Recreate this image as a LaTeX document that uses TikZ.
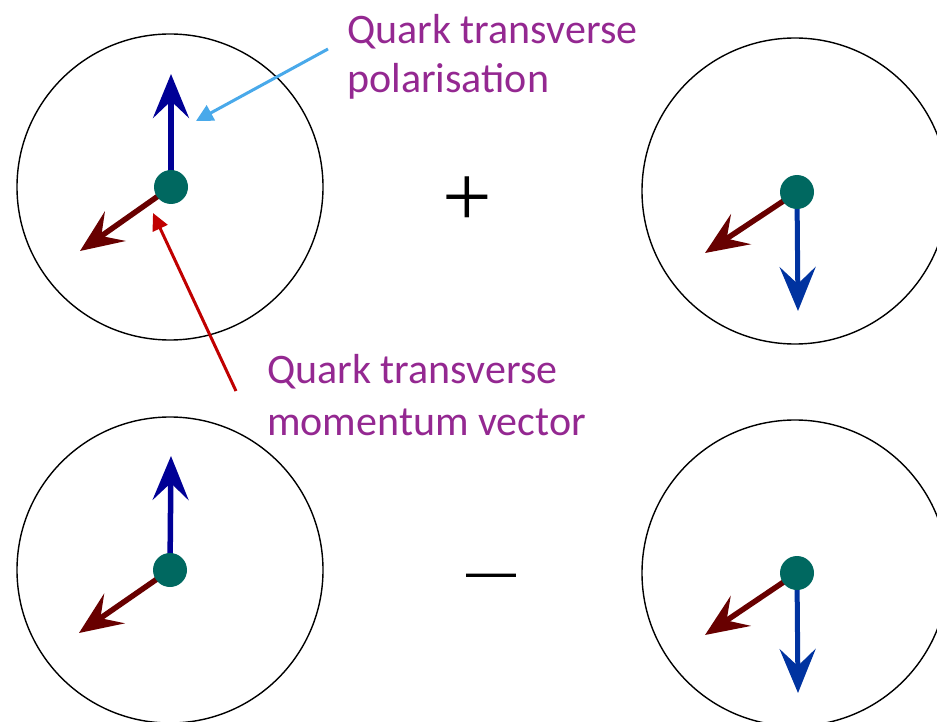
\documentclass[tikz,border=0pt]{standalone}
\usepackage{fontspec}
\setmainfont{Carlito}
\newfontfamily\signserif{Liberation Serif}
\newfontfamily\signsans{Liberation Sans}
\usetikzlibrary{arrows.meta}
\definecolor{dotcol}{RGB}{0,104,96}
\definecolor{blueA}{RGB}{0,0,150}
\definecolor{blueB}{RGB}{0,51,160}
\definecolor{maroon}{RGB}{104,0,0}
\definecolor{lblue}{RGB}{73,169,234}
\definecolor{annred}{RGB}{192,0,0}
\definecolor{labcol}{RGB}{148,40,145}
\tikzset{
  ring/.style={draw=black, line width=1.4pt},
  qdot/.style={circle, fill=dotcol, minimum size=34pt, inner sep=0pt},
  polup/.style={draw=blueA, line width=5.5pt, -{Stealth[length=44pt,width=36pt,inset=17pt]}},
  poldown/.style={draw=blueB, line width=5pt, -{Stealth[length=44pt,width=36pt,inset=17pt]}},
  momarr/.style={draw=maroon, line width=5.5pt, -{Stealth[length=43pt,width=36pt,inset=17pt]}},
  annblue/.style={draw=lblue, line width=3pt, -{Triangle[length=17pt,width=17pt]}},
  annredarr/.style={draw=annred, line width=3pt, -{Triangle[length=17pt,width=16pt]}},
  lab/.style={text=labcol, font=\fontsize{42pt}{46pt}\selectfont, anchor=base west, inner sep=0pt},
  sign/.style={text=black, inner sep=0pt}
}
\begin{document}
\begin{tikzpicture}[x=1pt,y=-1pt]
\useasboundingbox (0,0) rectangle (937,722);
\clip (0,0) rectangle (937,722);
% circles
\node[ring, circle, minimum size=306pt, inner sep=0pt] (c1) at (170,187) {};
\node[ring, circle, minimum size=306pt, inner sep=0pt] (c2) at (795,191) {};
\node[ring, circle, minimum size=306pt, inner sep=0pt] (c3) at (170,570) {};
\node[ring, circle, minimum size=306pt, inner sep=0pt] (c4) at (795,573) {};
% arrow end points
\coordinate (u1) at (171,74);
\coordinate (r1) at (80,251);
\coordinate (v2) at (798,311);
\coordinate (r2) at (705,253);
\coordinate (u3) at (171,456);
\coordinate (r3) at (79,633);
\coordinate (v4) at (798,693);
\coordinate (r4) at (705,635);
% dot centres
\coordinate (p1) at (171,187);
\coordinate (p2) at (797,192);
\coordinate (p3) at (170,570);
\coordinate (p4) at (797,573);
% arrows
\draw[polup] (p1) -- (u1);
\draw[momarr] (p1) -- (r1);
\draw[poldown] (p2) -- (v2);
\draw[momarr] (p2) -- (r2);
\draw[polup] (p3) -- (u3);
\draw[momarr] (p3) -- (r3);
\draw[poldown] (p4) -- (v4);
\draw[momarr] (p4) -- (r4);
% dots
\node[qdot] (d1) at (p1) {};
\node[qdot] (d2) at (p2) {};
\node[qdot] (d3) at (p3) {};
\node[qdot] (d4) at (p4) {};
% signs
\node[sign, font=\signserif\fontsize{88pt}{88pt}\selectfont] (plus) at (467,202) {+};
\node[sign, font=\signsans\fontsize{50pt}{50pt}\selectfont, anchor=base west] (minus) at (466,588) {—};
% labels
\node[lab] (l1a) at (347,44) {Quark transverse};
\node[lab] (l1b) at (347,93) {polarisation};
\node[lab] (l2a) at (267,383) {Quark transverse};
\node[lab] (l2b) at (267,435) {momentum vector};
% annotation arrows
\coordinate (a1s) at (328,49);
\coordinate (a1e) at (196,121);
\coordinate (a2s) at (236,391);
\coordinate (a2e) at (153,213);
\draw[annblue] (a1s) -- (a1e);
\draw[annredarr] (a2s) -- (a2e);
\end{tikzpicture}
\end{document}
